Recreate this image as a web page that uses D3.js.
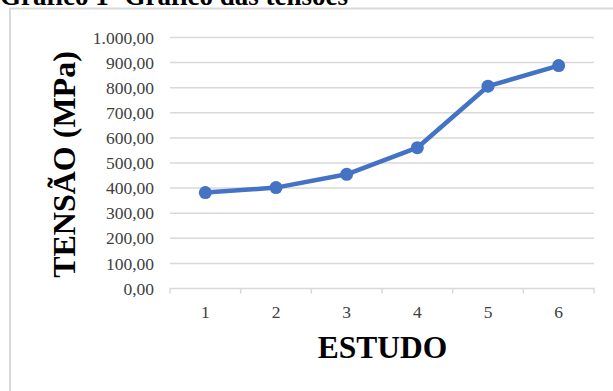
<!DOCTYPE html>
<html lang="pt">
<head>
<meta charset="utf-8">
<title>Gráfico das tensões</title>
<style>
  body { margin: 0; background: #fff; }
  .grid line { stroke: #d9d9d9; stroke-width: 1.5; }
  .xaxis path, .xaxis line { stroke: #d9d9d9; stroke-width: 1.5; }
</style>
<script src="https://cdn.jsdelivr.net/npm/d3@7/dist/d3.min.js"></script>
</head>
<body>
<svg width="613" height="391"></svg>
<script>
// dados
var estudos = ["1", "2", "3", "4", "5", "6"];
var tensoes = [382, 402, 455, 561, 806, 888];
var yTicks = [0, 100, 200, 300, 400, 500, 600, 700, 800, 900, 1000];

var svg = d3.select("svg");
var pLeft = 170, pRight = 594, pTop = 37.5, pBottom = 288.5;

// titulo (cortado no topo)
svg.append("text")
   .attr("x", 0)
   .attr("y", 5)
   .attr("font-family", "Liberation Serif, serif")
   .attr("font-weight", "bold")
   .attr("font-size", "27px")
   .attr("fill", "#000")
   .text("Gráfico 1- Gráfico das tensões");

// moldura
svg.append("rect")
   .attr("x", 10).attr("y", 8.5)
   .attr("width", 640).attr("height", 420)
   .attr("fill", "#fff")
   .attr("stroke", "#d9d9d9")
   .attr("stroke-width", 2);

var x = d3.scaleBand().domain(estudos).range([pLeft, pRight]);
var y = d3.scaleLinear().domain([0, 1000]).range([pBottom, pTop]);

var fmt = function(v) {
  return d3.format(",.2f")(v).replace(/,/g, "#").replace(".", ",").replace(/#/g, ".");
};

// grade
svg.append("g")
   .attr("class", "grid")
   .selectAll("line")
   .data(yTicks.filter(function(d) { return d > 0; }))
   .enter().append("line")
   .attr("x1", pLeft).attr("x2", pRight)
   .attr("y1", function(d) { return y(d); })
   .attr("y2", function(d) { return y(d); });

// eixo y (so rotulos)
var gy = svg.append("g")
   .attr("transform", "translate(" + (pLeft - 16) + ",0)")
   .call(d3.axisLeft(y).tickValues(yTicks).tickFormat(fmt).tickSize(0).tickPadding(0));
gy.select(".domain").remove();

// eixo x
var gx = svg.append("g")
   .attr("class", "xaxis")
   .attr("transform", "translate(0," + pBottom + ")")
   .call(d3.axisBottom(x).tickSize(0).tickPadding(29));
gx.select(".domain").attr("d", "M" + pLeft + ",5V0H" + pRight + "V5");
gx.selectAll(".sep")
   .data(estudos.slice(1))
   .enter().append("line")
   .attr("class", "sep")
   .attr("x1", function(d) { return x(d); })
   .attr("x2", function(d) { return x(d); })
   .attr("y1", 0).attr("y2", 5);
gx.selectAll(".tick text").attr("dy", "0");

svg.selectAll(".tick text")
   .attr("font-family", "Liberation Serif, serif")
   .attr("font-size", "17.5px")
   .attr("fill", "#404040");

// linha
var line = d3.line()
   .x(function(d, i) { return x(estudos[i]) + x.bandwidth() / 2; })
   .y(function(d) { return y(d); });

svg.append("path")
   .datum(tensoes)
   .attr("fill", "none")
   .attr("stroke", "#4472c4")
   .attr("stroke-width", 4.5)
   .attr("stroke-linejoin", "round")
   .attr("d", line);

svg.selectAll(".pt")
   .data(tensoes)
   .enter().append("circle")
   .attr("class", "pt")
   .attr("cx", function(d, i) { return x(estudos[i]) + x.bandwidth() / 2; })
   .attr("cy", function(d) { return y(d); })
   .attr("r", 6.5)
   .attr("fill", "#4472c4");

// titulos dos eixos
svg.append("text")
   .attr("transform", "translate(75,164.5) rotate(-90)")
   .attr("text-anchor", "middle")
   .attr("font-family", "Liberation Serif, serif")
   .attr("font-weight", "bold")
   .attr("font-size", "32px")
   .text("TENSÃO (MPa)");

svg.append("text")
   .attr("x", (pLeft + pRight) / 2 + 0.5)
   .attr("y", 358)
   .attr("text-anchor", "middle")
   .attr("font-family", "Liberation Serif, serif")
   .attr("font-weight", "bold")
   .attr("font-size", "31.5px")
   .text("ESTUDO");
</script>
</body>
</html>
